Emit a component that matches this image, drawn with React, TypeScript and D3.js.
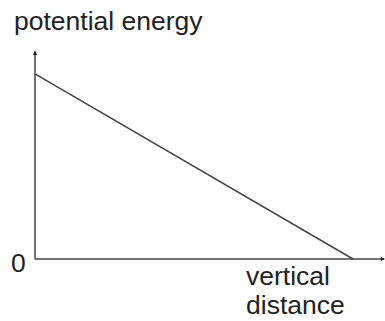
import React from "react";
import * as d3 from "d3";

const distances = [0, 9.11];
const energies = [8.94, 0];
const yAxisLabel = "potential energy";
const xAxisLabelLines = ["vertical", "distance"];
const zeroLabel = "0";

export default function App() {
  const W = 385, H = 321;
  const x0 = 35, x1 = 384, yBottom = 259, yTop = 52;
  const x = d3.scaleLinear().domain([0, 10]).range([x0, x1]);
  const y = d3.scaleLinear().domain([0, 10]).range([yBottom, yTop]);
  const pts: [number, number][] = distances.map((d, i) => [d, energies[i]]);
  const line = d3.line<[number, number]>().x(d => x(d[0])).y(d => y(d[1]));
  const font = "Liberation Sans, Arial, sans-serif";
  const col = "#444";
  const fs = 26.5;
  return (
    <svg width={W} height={H} style={{ position: "absolute", left: 0, top: 0 }}>
      <rect width={W} height={H} fill="#fff" />
      <line x1={x(0)} x2={x(0)} y1={y(0)} y2={y(10)} stroke={col} strokeWidth={1.5} />
      <line x1={x(0)} x2={x(10)} y1={y(0)} y2={y(0)} stroke={col} strokeWidth={1.5} />
      <path d={`M${x(0) - 2},${y(10) + 3} L${x(0)},${y(10) - 2} L${x(0) + 2},${y(10) + 3} Z`} fill="#222" />
      <path d={`M${x(10) - 3},${y(0) - 2} L${x(10) + 1},${y(0)} L${x(10) - 3},${y(0) + 2} Z`} fill="#222" />
      <path d={line(pts) || ""} fill="none" stroke={col} strokeWidth={1.5} />
      <text x={14} y={30} fontFamily={font} fontSize={fs} fill="#222">{yAxisLabel}</text>
      <text x={11} y={272} fontFamily={font} fontSize={fs} fill="#222">{zeroLabel}</text>
      {xAxisLabelLines.map((t, i) => (
        <text key={i} x={246} y={285 + i * 29} fontFamily={font} fontSize={fs} fill="#222">{t}</text>
      ))}
    </svg>
  );
}
